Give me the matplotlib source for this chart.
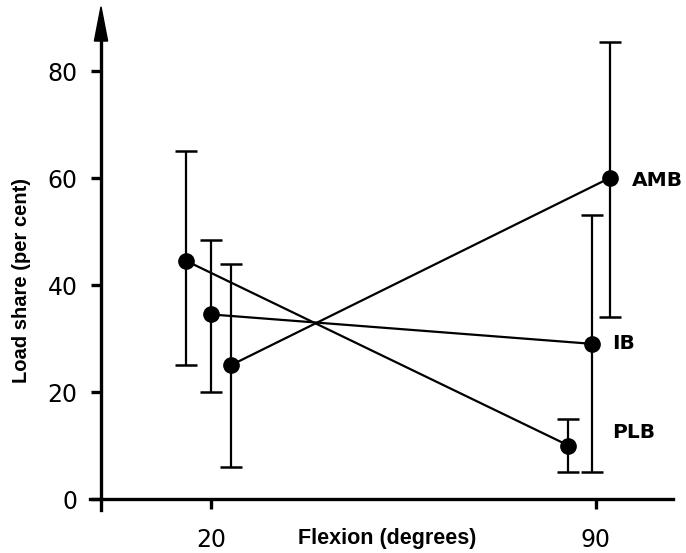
import matplotlib
matplotlib.use("Agg")
import matplotlib.pyplot as plt

# Data (x positions are slightly offset in the original for readability)
series = ["AMB", "IB", "PLB"]
x_amb = [23.6, 92.5]
y_amb = [25, 60]
lo_amb = [6, 34]
hi_amb = [44, 85.5]

x_ib = [20.0, 89.3]
y_ib = [34.5, 29]
lo_ib = [20, 5]
hi_ib = [48.5, 53]

x_plb = [15.5, 85.0]
y_plb = [44.5, 10]
lo_plb = [25, 5]
hi_plb = [65, 15]

label_pos = {"AMB": (96.5, 59.5), "IB": (93, 29), "PLB": (93, 12.5)}

xticks = [20, 90]
yticks = [0, 20, 40, 60, 80]

fig = plt.figure(figsize=(6.86, 5.53), dpi=100)
ax = fig.add_axes([0.1312, 0.0783, 0.981 - 0.1312, 0.9877 - 0.0783])

for xs, ys, lo, hi in [(x_amb, y_amb, lo_amb, hi_amb),
                       (x_ib, y_ib, lo_ib, hi_ib),
                       (x_plb, y_plb, lo_plb, hi_plb)]:
    yerr = [[y - l for y, l in zip(ys, lo)], [h - y for y, h in zip(ys, hi)]]
    ax.errorbar(xs, ys, yerr=yerr, fmt='o-', color='black', lw=1.6,
                elinewidth=1.6, capsize=8, capthick=1.8, markersize=11)

for name in series:
    px, py = label_pos[name]
    ax.text(px, py, name, fontsize=14.5, fontweight='bold', va='center', ha='left',
            family='DejaVu Sans')

ax.set_xlim(-2, 104)
ax.set_ylim(-2, 92)
for s in ['top', 'right']:
    ax.spines[s].set_visible(False)
ax.spines['left'].set_position(('data', 0))
ax.spines['bottom'].set_position(('data', 0))
ax.spines['left'].set_linewidth(2.4)
ax.spines['bottom'].set_linewidth(2.4)
ax.spines['left'].set_bounds(-2, 87)

# arrow head on top of the y axis
ax.fill([-1.2, 0, 1.2], [85.6, 92, 85.6], color='black', clip_on=False, zorder=5)

ax.set_xticks(xticks)
ax.set_yticks(yticks)
ax.tick_params(axis='both', width=2.4, length=7, labelsize=17, direction='out', pad=10)
ax.tick_params(axis='x', pad=14)

ax.text(52, -7.4, "Flexion (degrees)", fontsize=15.5, fontweight='bold',
        ha='center', va='center', family='Liberation Sans')
fig.text(0.032, 0.492, "Load share (per cent)", rotation=90, fontsize=14.5,
         fontweight='bold', ha='center', va='center', family='Liberation Sans')

fig.savefig("out.png", dpi=100)
